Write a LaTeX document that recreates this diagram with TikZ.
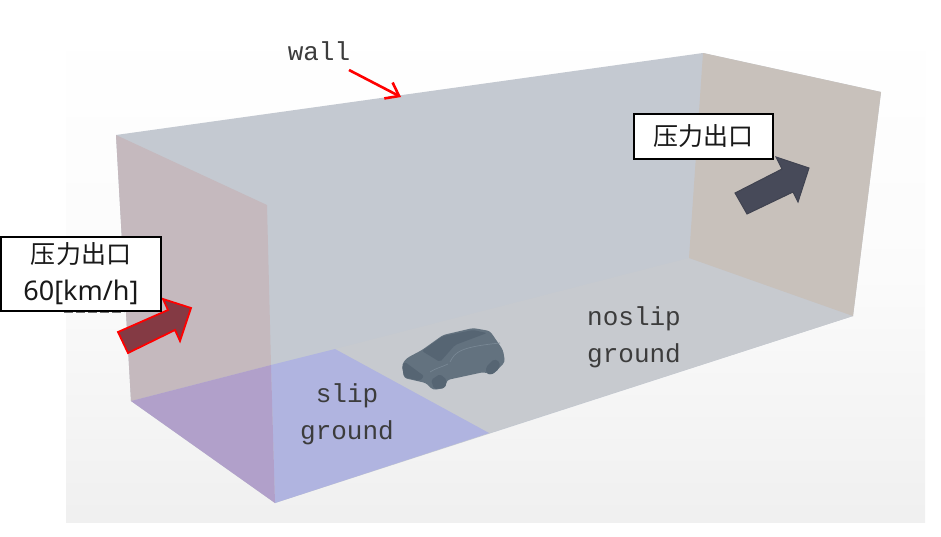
\documentclass[tikz,border=0pt]{standalone}
\usepackage{fontspec}
\setmainfont{Noto Sans}
\newfontfamily\cjk{Noto Sans CJK SC}
\newfontfamily\monof{Liberation Mono}
\usetikzlibrary{arrows.meta}
\definecolor{ceil}{HTML}{C4C9D1}
\definecolor{floorc}{HTML}{C7CACF}
\definecolor{leftw}{HTML}{C5B9BE}
\definecolor{rightw}{HTML}{C8C1BB}
\definecolor{slipf}{HTML}{B0B4E0}
\definecolor{slipw}{HTML}{B1A0CA}
\definecolor{darka}{HTML}{474A59}
\definecolor{reda}{HTML}{843A44}
\definecolor{labelc}{HTML}{3C3C3C}
\definecolor{carc}{HTML}{63727F}
\definecolor{card}{HTML}{566573}
\definecolor{carl}{HTML}{788794}
\tikzset{
  callout/.style={draw=black,line width=2pt,fill=white,align=center,inner sep=0pt,text=black!90},
  surfacelabel/.style={text=labelc,align=center,inner sep=0pt,font=\monof\fontsize{26}{37}\selectfont},
  flowarrow/.style={line join=miter,line width=1.8pt}
}
\begin{document}
\begin{tikzpicture}[x=1pt,y=-1pt]
\useasboundingbox (0,0) rectangle (941,536);
\fill[white] (0,0) rectangle (941,536);
% viewport panel
\shade[top color=white,bottom color=black!6,middle color=black!1.5] (66,18) rectangle (925,522);
% domain
\fill[ceil] (116,135) -- (703,53) -- (881,92) -- (853,316) -- (275,503) -- (131,401) -- cycle;
\fill[floorc] (335,349) -- (689,258) -- (853,316) -- (489,433) -- cycle;
\fill[leftw] (116,135) -- (267,205) -- (271,365) -- (131,401) -- cycle;
\fill[rightw] (703,53) -- (881,92) -- (853,316) -- (689,258) -- cycle;
\fill[slipf] (271,365) -- (335,349) -- (489,433) -- (275,503) -- cycle;
\fill[slipw] (131,401) -- (271,365) -- (275,503) -- cycle;
% car
\fill[carc,rounded corners=3pt] (402,364) -- (407,358) -- (422,350) -- (443,335) -- (473,328) -- (490,331) -- (503,350) -- (505,362) -- (498,369) -- (492,375) -- (484,372) -- (447,380) -- (445,388) -- (433,390) -- (426,383) -- (404,378) -- cycle;
\fill[card,rounded corners=2pt] (422,351) -- (443,336) -- (473,330) -- (487,333) -- (455,345) -- (440,362) -- cycle;
\fill[card,rounded corners=2pt] (402,366) -- (405,362) -- (424,376) -- (420,381) -- (404,377) -- cycle;
\fill[card,rounded corners=2pt] (431,380) -- (440,374) -- (447,380) -- (445,388) -- (434,389) -- cycle;
\fill[card,rounded corners=2pt] (486,367) -- (494,359) -- (500,362) -- (499,369) -- (491,375) -- (486,373) -- cycle;
\draw[carl,line width=.7pt] (450,362) .. controls (455,352) and (460,347) .. (500,343);
\draw[carl,line width=.7pt] (430,372) .. controls (436,368) and (442,367) .. (448,364);
% flow arrows
\filldraw[flowarrow,draw=red,fill=reda] (118,332) -- (128,353) -- (175,330) -- (180,341) -- (191,308) -- (163,299) -- (168,310) -- cycle;
\filldraw[flowarrow,line width=1pt,draw=darka!90!black,fill=darka] (735,193) -- (747,214) -- (793,192) -- (798,202) -- (809,168) -- (776,157) -- (782,169) -- cycle;
% wall pointer
\coordinate (wallfrom) at (349,70);
\coordinate (wallto) at (401,97);
\draw[red,line width=2.6pt,-{Straight Barb[length=12pt,width=18pt,line width=2.6pt]}] (wallfrom) -- (wallto);
% labels
\node[surfacelabel] (wall) at (319,51) {wall};
\node[surfacelabel] (noslip) at (634,337.5) {noslip\\ground};
\node[surfacelabel] (slip) at (347,414.5) {slip\\ground};
\draw[black!55,line width=1.4pt,dash pattern=on 9pt off 3pt] (64,312.5) -- (124,312.5);
\node[callout,minimum width=160pt,minimum height=74pt,font=\fontsize{27}{37}\selectfont] (inlet) at (81,273.5) {{\cjk\fontsize{25}{37}\selectfont 压力出口}\\60[km/h]};
\node[callout,minimum width=139pt,minimum height=45pt,font=\fontsize{25}{30}\selectfont] (outlet) at (703,136) {\cjk 压力出口};
\end{tikzpicture}
\end{document}
